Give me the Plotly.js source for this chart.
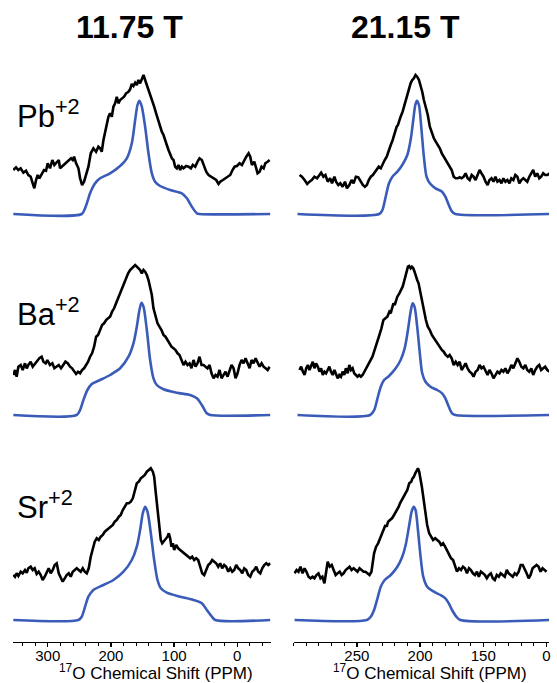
<!DOCTYPE html>
<html>
<head>
<meta charset="utf-8">
<script src="https://cdn.plot.ly/plotly-3.0.1.min.js"></script>
<style>html,body{margin:0;padding:0;background:#fff;}#chart{width:557px;height:683px;}</style>
</head>
<body>
<div id="chart"></div>
<script>
// ---------- Data: 17O chemical shift (ppm) and intensity (a.u.) ----------
// Pb+2, 11.75 T
const pb11_exp_ppm = [354.5,350.2,346.5,342.9,338.6,334.4,330.7,327.0,323.8,321.2,318.5,315.9,313.3,309.6,305.9,302.7,300.1,296.4,292.7,289.5,285.8,282.6,280.5,276.3,272.6,270.0,266.2,263.1,260.4,258.3,255.1,251.4,248.8,245.6,242.5,239.3,235.6,231.9,227.7,223.5,219.8,217.1,214.5,211.8,207.6,203.9,201.3,198.6,196.0,193.3,190.7,188.1,185.4,182.8,179.1,175.9,172.2,169.6,166.9,164.3,161.6,159.0,156.4,153.7,151.1,148.4,145.8,143.1,140.5,137.9,134.7,131.5,128.4,125.2,122.0,119.4,116.7,113.6,111.5,108.8,106.2,103.5,100.9,98.2,95.6,93.0,90.3,87.7,85.0,80.8,77.1,73.4,70.2,66.5,62.8,59.7,56.0,52.3,49.1,45.4,41.7,37.5,33.3,29.6,26.9,22.7,19.0,15.3,11.1,7.4,4.2,0.5,-3.7,-7.4,-11.1,-14.3,-18.0,-20.6,-23.3,-27.0,-30.1,-32.2,-35.4,-38.6,-41.8,-44.4,-48.1,-51.3];
const pb11_exp = [44,46.7,44,45.7,41.3,43.3,39,37.3,30.7,25.7,34,39,35.7,40.7,44,43.3,50.7,45.7,54,49,52.3,54,45.7,48,50.7,52.3,54,55.7,54,57.3,50.7,45.7,35.7,29,32.3,39,47.3,60.7,65.7,62.3,67.3,65.7,62.3,74,87.3,97.3,100.7,97.3,107.3,110.7,117.3,110.7,114,115.7,117.3,120.7,122.3,124.7,130,128,131.3,129,134,130.7,135.7,139,134,129,125.7,120.7,114,107.3,100.7,94,87.3,82.3,79,74,69,64,59,55.7,54,47.3,45.7,49,44,47.3,45.7,48,47.3,45.7,49,47.3,52.3,55.7,54,47.3,42.3,39,37.3,35.7,34,30,32.3,34,35.7,37.3,39,44,47.3,48,50.7,49,54,57.3,60.7,57.3,49,52.3,45.7,40.7,42.3,47.3,45.7,50.7,52.3,54];
const pb11_sim_ppm = [354.5,246.2,240.9,237.2,233.0,225.0,217.1,201.3,185.4,174.8,166.9,161.6,157.9,154.8,151.1,145.8,140.5,135.2,130.0,122.0,106.2,87.7,79.7,71.8,63.9,59.7,-52.3];
const pb11_sim = [0,0,5.7,12.3,20.7,30.7,35.7,40.7,48,55.7,70.7,94,109,113.3,107.3,87.3,60.7,40.7,32.3,28,24,20.7,15.7,7.3,0.7,0,0];

// Pb+2, 21.15 T
const pb21_exp_ppm = [295.4,293.5,291.4,289.3,287.5,285.7,283.6,281.5,279.6,278.3,276.5,274.9,273.1,271.2,269.7,267.8,266.5,264.7,263.1,261.3,259.4,257.9,256.0,254.2,252.6,250.8,248.9,246.8,245.3,243.7,242.1,240.6,239.0,237.4,235.8,234.3,232.7,231.1,229.5,228.0,226.4,224.8,223.2,221.7,220.1,218.5,217.5,216.4,215.4,213.8,212.8,211.4,210.1,208.8,207.5,206.2,204.9,203.6,202.3,200.9,199.6,198.3,197.0,195.4,193.9,192.3,190.7,189.1,187.6,186.0,184.4,182.8,181.3,179.7,178.1,176.6,175.0,173.4,171.8,170.3,168.7,167.1,165.5,164.0,162.4,160.8,159.2,157.7,156.1,154.5,152.9,151.4,149.8,148.2,146.6,145.1,143.5,141.9,140.4,138.8,137.2,135.6,134.1,132.5,130.9,129.3,127.8,126.2,124.6,123.0,121.5,119.9,118.3,116.7,115.2,113.6,112.0,110.5,108.9,107.3,105.7,104.2,102.6,101.0,99.4,97.3];
const pb21_exp = [39,37.3,34,30,32.3,34,37.3,35.7,39,41.3,37.3,39,32.3,35.7,30.7,37.3,32.3,29,30.7,27.3,32.3,25.7,29,34,30.7,37.3,36.7,31.3,29,27.3,29,34,37.3,39,42.3,44,47.3,45.7,50.7,54,57.3,64,69,74,80.7,87.3,89,94,97.3,102.3,107.3,114,120.7,125.7,130.7,134,135.7,139,137.3,134,129,122.3,114,107.3,99,87.3,80.7,75.7,72.3,69,65.7,60.7,57.3,54,50.7,47.3,44,37.3,35.7,35.7,36.7,35.7,37.3,40.7,35.7,34,39,37.3,34,39,44,40.7,37.3,32.3,29,34,35.7,32.3,37.3,32.3,34,30.7,35.7,32.3,34,30.7,35.7,34,39,37.3,30.7,34,35.7,34,32.3,37.3,40.7,44,37.3,40.7,35.7,37.3,40.7,39,39,40.7];
const pb21_sim_ppm = [297.0,232.4,229.8,227.2,224.6,221.9,218.0,214.1,210.1,207.5,205.4,203.8,202.5,200.9,199.1,197.0,194.9,192.3,187.8,182.6,180.0,177.3,174.7,172.1,97.3];
const pb21_sim = [0,0,4,17.3,30.7,37.3,42.3,49,59,74,94,109,113.3,109,87.3,57.3,37.3,30.7,25.7,22.3,17.3,9,2.3,0,0];

// Ba+2, 11.75 T
const ba11_exp_ppm = [354.5,351.8,349.2,346.5,342.8,339.7,336.0,333.3,330.7,327.0,323.8,320.1,316.4,313.3,309.6,306.9,303.2,300.6,296.4,292.7,289.5,285.8,282.6,278.9,275.2,272.0,268.4,264.7,261.5,258.3,255.1,252.0,248.8,245.6,242.5,239.3,236.1,233.0,229.8,226.6,223.4,220.3,217.1,213.9,210.8,207.6,204.4,201.3,198.1,194.9,191.8,188.6,185.4,182.2,179.1,175.9,172.7,169.6,166.4,164.3,161.6,159.0,156.4,153.7,151.1,148.4,145.8,143.1,140.5,137.9,135.2,132.6,129.4,126.2,123.1,119.9,116.7,113.6,110.4,107.2,104.1,100.9,97.7,94.5,91.4,88.2,85.0,81.9,78.7,75.5,72.4,69.2,66.0,62.9,59.7,56.5,53.3,50.2,47.0,43.8,40.7,37.5,34.3,31.2,28.0,24.8,21.6,18.5,15.3,12.1,9.0,5.8,2.6,-0.5,-3.7,-6.9,-10.1,-13.2,-16.4,-19.6,-22.7,-25.9,-29.1,-32.2,-35.4,-38.6,-41.7,-44.9,-48.1,-51.3];
const ba11_exp = [40,45,38.3,48.3,50,45,51.7,46.7,50,53.3,48.3,51.7,55,56.7,58.3,53.3,51.7,55,50,51.7,46.7,48.3,50,46.7,50,53.3,51.7,48.3,46.7,43.3,41,43.3,41.7,45,46.7,50,53.3,58.3,61.7,68.3,78.3,80,85,90,91.7,95,96.7,98.3,103.3,106.7,111.7,116.7,121.7,128.3,133.3,136.7,141.7,145,146.7,148.3,150,148.3,146.7,145,141.7,145,143.3,140,135,128.3,120,106.7,98.3,91.7,88.3,85,80,78.3,75,71.7,68.3,66.7,65,61.7,60,55,50,53.3,50,51.7,46.7,55,48.3,51.7,58.3,50,50,48.3,46.7,50,41.7,36.7,40,38.3,45,36.7,40,43.3,38.3,45,50,46.7,36.7,41.7,50,55,51.7,56.7,51.7,46.7,55,51.7,56.7,51.7,48.3,51.7,48.3,46.7,45,48.3];
const ba11_sim_ppm = [354.5,254.1,248.8,243.5,237.2,230.3,217.1,201.3,185.4,172.2,164.3,159.0,154.8,151.6,148.4,143.1,137.9,132.6,127.3,116.7,95.6,74.5,63.9,56.0,48.1,42.8,-52.3];
const ba11_sim = [0,0,5,15,25,31,35,40,46.7,58.3,71.7,88.3,105,112.3,108.3,85,55,36.7,30,25.7,22.3,20,16.7,10,1.7,0,0];

// Ba+2, 21.15 T
const ba21_exp_ppm = [295.4,294.1,292.7,291.4,290.1,288.8,287.5,286.2,284.9,283.6,282.3,280.9,279.6,278.3,277.0,275.7,274.4,273.1,271.8,270.5,269.1,267.8,266.5,265.2,263.9,262.6,261.3,260.0,258.7,257.3,256.0,254.7,253.4,252.1,250.8,249.5,248.2,246.8,245.5,244.2,242.9,241.6,240.3,239.0,237.7,236.4,235.0,233.7,232.2,230.6,229.0,227.4,225.9,224.3,223.2,222.2,221.1,220.1,219.0,218.0,216.4,214.8,213.8,212.7,211.7,210.7,209.6,208.6,207.5,206.5,205.4,204.4,203.3,202.3,201.2,200.2,199.1,198.1,197.0,195.4,193.9,192.3,190.7,189.1,187.6,186.0,184.4,182.8,181.3,179.7,178.1,176.6,175.0,173.4,171.8,170.3,168.7,167.1,165.5,164.0,162.4,160.8,159.2,157.7,156.1,154.5,152.9,151.4,149.8,148.2,146.6,145.1,143.5,141.9,140.4,138.8,137.2,135.6,134.1,132.5,130.9,129.3,127.8,126.2,124.6,123.0,121.5,119.9,118.3,116.7,115.2,113.6,112.0,110.5,108.9,107.3,105.7,104.2,102.6,101.0,99.4,97.3];
const ba21_exp = [45,48.3,43.3,40,46.7,50,45,50,53.3,46.7,51.7,48.3,43.3,46.7,40,43.3,41.7,45,48.3,43.3,40,45,40,36.7,40,38.3,43.3,40,46.7,41.7,50,45,46.7,41.7,40,38.3,40,38.3,40,43.3,45,48.3,51.7,55,58.3,63.3,68.3,75,80,86.7,95,96.7,98.3,103.3,101.7,106.7,111.7,110,115,118.3,121.7,125,128.3,133.3,138.3,145,148.3,149,146.7,148.3,146.7,143.3,138.3,135,131.7,125,118.3,110,103.3,95,88.3,85,80,76.7,75,71.7,68.3,65,63.3,60,58.3,60,56.7,50,53.3,50,53.3,45,48.3,51.7,46.7,43.3,41.7,38.3,43.3,45,50,46.7,48.3,43.3,40,45,41.7,36.7,40,43.3,41.7,45,43.3,46.7,41.7,45,50,46.7,51.7,56.7,53.3,48.3,46.7,50,45,43.3,46.7,40,45,48.3,50,45,46.7,48.3,45,43.3];
const ba21_sim_ppm = [297.0,239.5,236.3,233.7,231.1,228.5,224.6,219.3,215.4,212.2,209.6,207.5,205.9,204.4,202.3,200.2,198.3,195.7,191.8,186.5,182.6,180.0,177.3,174.7,172.1,97.3];
const ba21_sim = [0,0,5,16.7,28.3,35,39,46.7,55,66.7,85,103.3,111.7,108.3,88.3,61.7,41.7,33.3,28.3,25,21.7,16.7,8.3,1.7,0,0];

// Sr+2, 11.75 T
const sr11_exp_ppm = [354.5,351.8,349.2,346.5,342.8,339.7,336.0,333.3,330.7,327.0,323.8,320.7,317.5,314.3,311.1,308.0,304.8,301.6,298.5,295.3,292.1,289.0,285.8,282.6,279.4,276.3,273.1,270.0,266.8,263.6,260.4,257.3,254.1,250.9,247.8,244.6,241.4,238.2,235.1,231.9,228.7,225.6,222.4,219.2,216.1,212.9,209.7,206.5,203.4,200.2,197.0,193.9,190.7,187.5,184.4,181.2,178.0,174.8,171.7,168.5,165.3,162.2,159.0,155.8,152.7,149.5,146.3,143.1,140.0,136.8,133.6,131.5,129.4,127.3,125.2,123.1,121.0,118.8,116.7,114.6,112.5,110.4,108.3,106.2,104.1,102.0,99.8,96.7,93.5,90.3,87.2,84.0,80.8,77.6,74.5,71.3,68.1,65.0,61.8,58.6,55.5,52.3,49.1,45.9,42.8,39.6,36.4,33.3,30.1,26.9,23.8,20.6,17.4,14.2,11.1,7.9,4.7,1.6,-1.6,-4.8,-8.0,-11.1,-14.3,-17.4,-20.6,-23.8,-27.0,-30.1,-33.3,-36.5,-39.6,-42.8,-46.0,-49.1,-52.3];
const sr11_exp = [45,43.3,46.7,44,48.3,46.7,50,47.3,51.7,53.3,50,51.7,46,48.3,45,40,43.3,48.3,51.7,46.7,50,55,56.7,46.7,41.7,38.3,41.7,45,46.7,43.3,48.3,50,51.7,50,48.3,51.7,48.3,46.7,51.7,63.3,70,78.3,81.7,80,83.3,85,88.3,90,91.7,93.3,95,98.3,100,103.3,105,110,113.3,116.7,116.7,118.3,121.7,130,136.7,138.3,141.7,143.3,145,148.3,150,151.7,148.3,143.3,130,116.7,103.3,90,80,76.7,78.3,80,81.7,83.3,86.7,81.7,73.3,76.7,70,75,71.7,70,68.3,66.7,65,63.3,61.7,63.3,60,61.7,60,53.3,46.7,45,50,55,56.7,60,58.3,56.7,53.3,56.7,51.7,55,53.3,48.3,51.7,48.3,50,55,51.7,50,46.7,51.7,50,45,43.3,48.3,50,53.3,48.3,46.7,51.7,55,56.7,55,56.7];
const sr11_sim_ppm = [354.5,251.4,246.2,240.9,235.6,227.7,211.8,196.0,180.1,166.9,159.0,153.7,149.5,145.8,142.1,136.8,131.5,126.2,120.9,111.5,90.3,69.2,56.0,48.1,40.1,34.8,-52.3];
const sr11_sim = [0,0,3.3,13.3,23.3,30,35,40,48.3,60,73.3,90,106.7,113.3,108.3,86.7,60,40,31.7,27.3,23.3,20,16.7,10,3.3,0,0];

// Sr+2, 21.15 T
const sr21_exp_ppm = [299.3,297.7,296.2,294.6,293.0,291.4,289.9,288.3,286.7,285.1,283.6,282.0,280.4,278.8,277.3,275.7,274.1,273.1,271.5,269.9,268.4,266.8,265.2,263.6,262.1,260.5,258.9,257.3,255.8,254.2,252.6,251.0,249.5,247.9,246.3,244.7,243.2,241.6,240.0,238.5,237.4,236.4,234.8,233.2,231.6,230.1,228.5,227.4,226.4,225.3,223.8,222.2,220.6,219.0,218.0,216.9,215.9,214.3,212.7,211.7,210.1,208.6,207.0,206.0,204.9,203.8,202.8,201.7,200.7,199.6,198.6,197.5,196.5,195.4,194.4,192.8,191.2,189.7,188.1,186.5,184.9,183.4,181.8,180.2,178.7,177.1,175.5,173.9,172.4,170.8,169.2,167.6,166.1,164.5,162.9,161.3,159.8,158.2,156.6,155.0,153.5,151.9,150.3,148.7,147.2,145.6,144.0,142.5,140.9,139.3,137.7,136.2,134.6,133.0,131.4,129.9,128.3,126.7,125.1,123.6,122.0,120.4,118.8,117.3,115.7,114.1,112.6,111.0,109.4,107.8,106.2,104.7,103.1,101.5,99.9];
const sr21_exp = [46.7,50,48.3,53.3,46.7,51.7,48.3,43.3,41.7,43.3,41.7,45,46.7,41.7,43.3,36.7,50,58.3,53.3,55,50,45,46.7,48.3,45,46.7,50,51.7,53.3,50,51.7,50,48.3,51.7,50,48.3,48.3,46.7,45,48.3,60,66.7,73.3,76.7,81.7,86.7,90,95,93.3,98.3,100,101.7,105,108.3,111.7,113.3,116.7,120,123.3,126.7,130,136.7,138.3,141.7,143.3,146.7,150,151.7,148.3,141.7,133.3,123.3,113.3,103.3,95,86.7,83.3,80,81.7,80,78.3,75,76.7,73.3,70,65,61.7,60,55,48.3,51.7,50,53.3,51.7,46.7,51.7,50,46.7,45,48.3,43.3,48.3,46.7,45,41.7,45,46.7,41.7,40,45,43.3,46.7,45,43.3,50,46.7,45,43.3,46.7,45,48.3,55,55,51.7,46.7,41.7,45,51.7,53.3,55,53.3,48.3,51.7,50,48.3];
const sr21_sim_ppm = [299.3,242.1,239.0,236.4,233.7,231.1,228.0,223.2,218.0,214.1,211.4,208.8,206.7,205.1,203.6,201.7,199.6,197.5,194.4,189.1,183.9,180.0,177.3,174.7,171.3,168.2,98.0];
const sr21_sim = [0,0,3.3,10,21.7,33.3,40,45,53.3,63.3,75,93.3,108.3,113.3,110,90,63.3,43.3,33.3,28.3,25,21.7,16.7,10,3.3,0,0];

// Axis tick values / labels and text
const left_tickvals = [300, 200, 100, 0];
const left_ticktext = ['300', '200', '100', '0'];
const right_tickvals = [250, 200, 150, 100];
const right_ticktext = ['250', '200', '150', '0'];
const field_titles = ['11.75 T', '21.15 T'];
const cation_labels = ['Pb<sup>+2</sup>', 'Ba<sup>+2</sup>', 'Sr<sup>+2</sup>'];
const axis_title = '<sup>17</sup>O Chemical Shift (PPM)';

// ---------- Styling ----------
const FONT = 'Liberation Sans, Arial, Helvetica, sans-serif';
const BLACK = '#000000';
const BLUE = '#3a5cb8';
const LW = 2.6;

function expTrace(x, y, xa, ya) {
  return {x: x, y: y, xaxis: xa, yaxis: ya, type: 'scatter', mode: 'lines',
          line: {color: BLACK, width: LW}, hoverinfo: 'skip'};
}
function simTrace(x, y, xa, ya) {
  return {x: x, y: y, xaxis: xa, yaxis: ya, type: 'scatter', mode: 'lines',
          line: {color: BLUE, width: LW, shape: 'spline', smoothing: 0.8}, hoverinfo: 'skip'};
}

const data = [
  expTrace(pb11_exp_ppm, pb11_exp, 'x', 'y'),   simTrace(pb11_sim_ppm, pb11_sim, 'x', 'y'),
  expTrace(pb21_exp_ppm, pb21_exp, 'x2', 'y2'), simTrace(pb21_sim_ppm, pb21_sim, 'x2', 'y2'),
  expTrace(ba11_exp_ppm, ba11_exp, 'x', 'y3'),  simTrace(ba11_sim_ppm, ba11_sim, 'x', 'y3'),
  expTrace(ba21_exp_ppm, ba21_exp, 'x2', 'y4'), simTrace(ba21_sim_ppm, ba21_sim, 'x2', 'y4'),
  expTrace(sr11_exp_ppm, sr11_exp, 'x', 'y5'),  simTrace(sr11_sim_ppm, sr11_sim, 'x', 'y5'),
  expTrace(sr21_exp_ppm, sr21_exp, 'x2', 'y6'), simTrace(sr21_sim_ppm, sr21_sim, 'x2', 'y6')
];

const W = 557, H = 683;
function xd(a, b) { return [a / W, b / W]; }
function yd(top, bottom) { return [1 - bottom / H, 1 - top / H]; }

function xaxisCfg(domain, range, anchor, tv, tt, minorStep) {
  return {
    domain: domain, range: range, anchor: anchor, autorange: false,
    showline: true, linecolor: BLACK, linewidth: 1.4, mirror: false,
    showgrid: false, zeroline: false,
    ticks: 'outside', ticklen: 4, tickwidth: 1.3, tickcolor: BLACK,
    ticklabelstandoff: -4,
    tickmode: 'array', tickvals: tv, ticktext: tt,
    tickfont: {family: FONT, size: 15, color: BLACK},
    minor: {ticks: 'outside', ticklen: 2.5, tickwidth: 1, tickcolor: BLACK, dtick: minorStep, tick0: 0, showgrid: false},
    fixedrange: true
  };
}
function yaxisCfg(domain, range, anchor) {
  return {domain: domain, range: range, anchor: anchor, visible: false, showgrid: false,
          zeroline: false, fixedrange: true};
}

const layout = {
  width: W, height: H,
  margin: {l: 0, r: 0, t: 0, b: 0, pad: 0},
  paper_bgcolor: '#ffffff', plot_bgcolor: 'rgba(0,0,0,0)',
  showlegend: false,
  font: {family: FONT, color: BLACK},
  xaxis: xaxisCfg(xd(13, 270.7), [355, -53], 'y5', left_tickvals, left_ticktext, 20),
  xaxis2: xaxisCfg(xd(293.7, 549), [300, 98], 'y6', right_tickvals, right_ticktext, 10),
  yaxis:  yaxisCfg(yd(44, 224), [-10, 170], 'x'),
  yaxis2: yaxisCfg(yd(44, 224), [-10, 170], 'x2'),
  yaxis3: yaxisCfg(yd(245, 425), [-10, 170], 'x'),
  yaxis4: yaxisCfg(yd(245, 425), [-10, 170], 'x2'),
  yaxis5: yaxisCfg(yd(450, 642), [-22, 170], 'x'),
  yaxis6: yaxisCfg(yd(450, 642), [-22, 170], 'x2'),
  annotations: [
    {text: '<b>' + field_titles[0] + '</b>', xref: 'paper', yref: 'paper', x: 129 / W, y: 1 - 27 / H,
     xanchor: 'center', yanchor: 'middle', showarrow: false, font: {family: FONT, size: 32, color: BLACK}},
    {text: '<b>' + field_titles[1] + '</b>', xref: 'paper', yref: 'paper', x: 405 / W, y: 1 - 27 / H,
     xanchor: 'center', yanchor: 'middle', showarrow: false, font: {family: FONT, size: 32, color: BLACK}},
    {text: cation_labels[0], xref: 'paper', yref: 'paper', x: 15 / W, y: 1 - 114 / H,
     xanchor: 'left', yanchor: 'middle', showarrow: false, font: {family: FONT, size: 31, color: BLACK}},
    {text: cation_labels[1], xref: 'paper', yref: 'paper', x: 15 / W, y: 1 - 312 / H,
     xanchor: 'left', yanchor: 'middle', showarrow: false, font: {family: FONT, size: 31, color: BLACK}},
    {text: cation_labels[2], xref: 'paper', yref: 'paper', x: 15 / W, y: 1 - 505 / H,
     xanchor: 'left', yanchor: 'middle', showarrow: false, font: {family: FONT, size: 31, color: BLACK}},
    {text: axis_title, xref: 'paper', yref: 'paper', x: 156 / W, y: -2 / H,
     xanchor: 'center', yanchor: 'bottom', showarrow: false, font: {family: FONT, size: 17, color: BLACK}},
    {text: axis_title, xref: 'paper', yref: 'paper', x: 430 / W, y: -2 / H,
     xanchor: 'center', yanchor: 'bottom', showarrow: false, font: {family: FONT, size: 17, color: BLACK}}
  ]
};

Plotly.newPlot('chart', data, layout, {displayModeBar: false, staticPlot: true});
</script>
</body>
</html>
